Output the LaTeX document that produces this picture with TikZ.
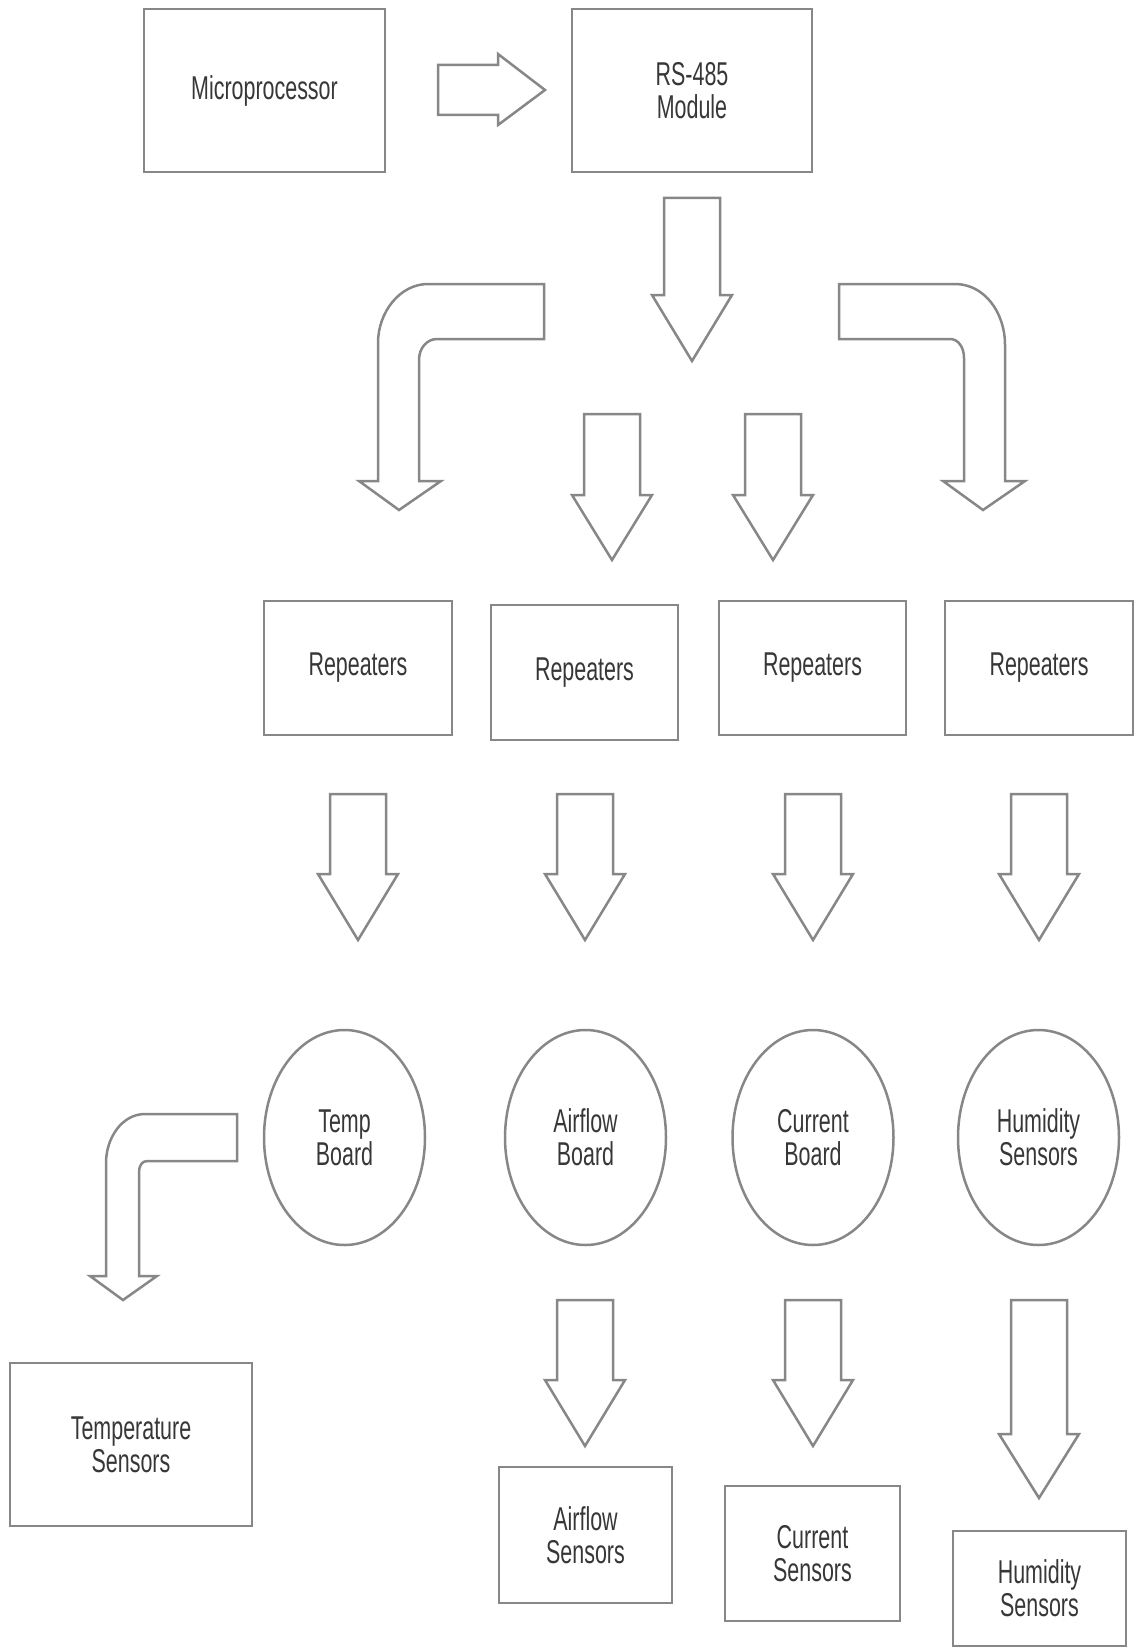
\documentclass[tikz,border=0pt]{standalone}
\usepackage{fontspec}
\setmainfont{Liberation Sans}[FakeStretch=0.65]
\usepackage{tikz}
\usetikzlibrary{shapes.geometric}

\definecolor{linegray}{RGB}{135,135,135}
\definecolor{txtgray}{RGB}{55,55,55}

\newcommand{\downblock}[4]{%
  \draw[blockarrow] (#1-28,#2) -- (#1+28,#2) -- (#1+28,#3) -- (#1+40,#3)
    -- (#1,#4) -- (#1-40,#3) -- (#1-28,#3) -- cycle;}

\tikzset{
  box/.style={draw=linegray, line width=2.5pt, text=txtgray, align=center,
    font=\fontsize{33}{33}\selectfont, inner sep=0pt},
  board/.style={box, ellipse, minimum width=161pt, minimum height=215pt},
  blockarrow/.style={draw=linegray, line width=2.5pt, line join=miter}
}

\begin{document}
\begin{tikzpicture}[x=1pt, y=-1pt]
    \useasboundingbox (0,0) rectangle (1135,1648);

    \node[box, minimum width=241pt, minimum height=163pt] (micro) at (264.5,90.5) {Microprocessor};
    \node[box, minimum width=240pt, minimum height=163pt] (rs) at (692,90.5) {RS-485\\Module};

    \node[box, minimum width=188pt, minimum height=134pt] (rep1) at (358,668) {Repeaters};
    \node[box, minimum width=187pt, minimum height=135pt] (rep2) at (584.5,672.5) {Repeaters};
    \node[box, minimum width=187pt, minimum height=134pt] (rep3) at (812.5,668) {Repeaters};
    \node[box, minimum width=188pt, minimum height=134pt] (rep4) at (1039,668) {Repeaters};

    \node[board] (tempb) at (344.5,1137.5) {Temp\\Board};
    \node[board] (airb) at (585.5,1137.5) {Airflow\\Board};
    \node[board] (curb) at (813,1137.5) {Current\\Board};
    \node[board] (humb) at (1038.5,1137.5) {Humidity\\Sensors};

    \node[box, minimum width=242pt, minimum height=163pt] (temps) at (131,1444.5) {Temperature\\Sensors};
    \node[box, minimum width=173pt, minimum height=136pt] (airs) at (585.5,1535) {Airflow\\Sensors};
    \node[box, minimum width=175pt, minimum height=135pt] (curs) at (812.5,1553.5) {Current\\Sensors};
    \node[box, minimum width=173pt, minimum height=115pt] (hums) at (1039.5,1588.5) {Humidity\\Sensors};

    % microprocessor to RS-485
    \draw[blockarrow] (438,65) -- (498,65) -- (498,54) -- (545,90) -- (498,125)
        -- (498,115) -- (438,115) -- cycle;

    % RS-485 fan out
    \downblock{692}{198}{295}{361}
    \draw[blockarrow] (544,284) -- (428,284) .. controls (400,284) and (378,312) .. (378,343)
        -- (378,481) -- (359,481) -- (399,510) -- (441,481) -- (419,481) -- (419,360)
        .. controls (419,348) and (427,339) .. (437,339) -- (544,339) -- cycle;
    \draw[blockarrow] (839,284) -- (955,284) .. controls (984,284) and (1005,312) .. (1005,345)
        -- (1005,481) -- (1025,481) -- (983,510) -- (943,481) -- (964,481) -- (964,358)
        .. controls (964,347) and (958,339) .. (950,339) -- (839,339) -- cycle;
    \downblock{612}{414}{495}{560}
    \downblock{773}{414}{495}{560}

    % repeaters to boards
    \downblock{358}{794}{874}{940}
    \downblock{585}{794}{874}{940}
    \downblock{813}{794}{874}{940}
    \downblock{1039}{794}{874}{940}

    % boards to sensors
    \draw[blockarrow] (237,1114) -- (145,1114) .. controls (122,1114) and (106,1138) .. (106,1163)
        -- (106,1276) -- (90,1276) -- (123,1300) -- (157,1276) -- (139,1276) -- (139,1172)
        .. controls (139,1166) and (142,1161) .. (147,1161) -- (237,1161) -- cycle;
    \downblock{585}{1300}{1380}{1446}
    \downblock{813}{1300}{1380}{1446}
    \downblock{1039}{1300}{1434}{1498}
\end{tikzpicture}
\end{document}
